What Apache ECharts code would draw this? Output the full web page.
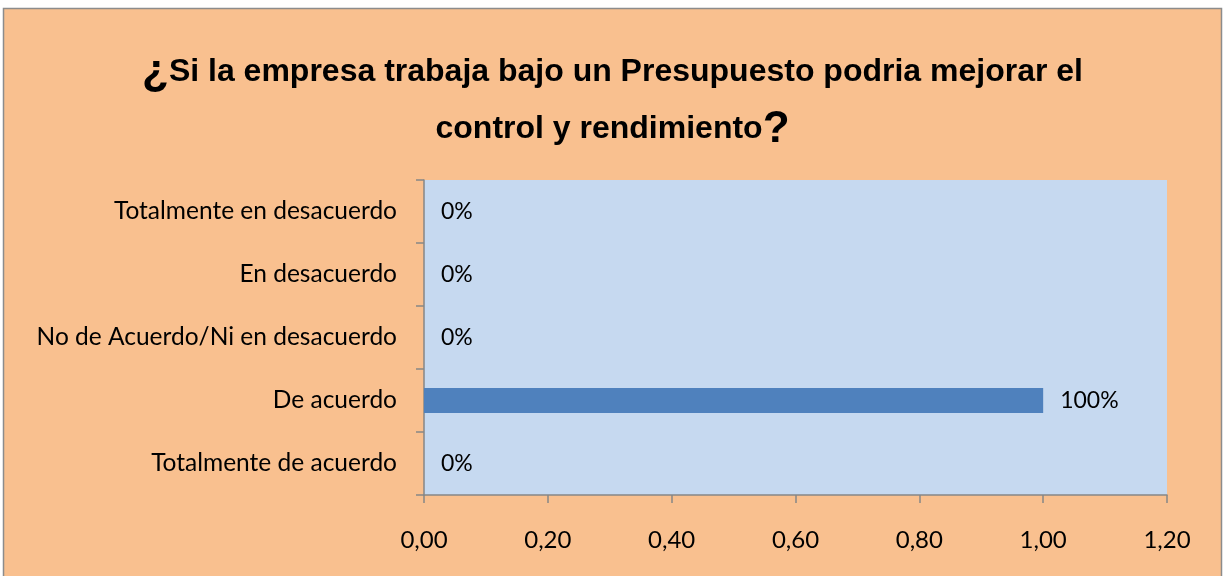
<!DOCTYPE html>
<html><head><meta charset="utf-8">
<script src="https://cdn.jsdelivr.net/npm/echarts@6/dist/echarts.min.js"></script>
<style>html,body{margin:0;padding:0;background:#fff}#c{width:1225px;height:576px}</style>
</head><body><div id="c"></div>
<script>
const categories = ["Totalmente de acuerdo", "De acuerdo", "No de Acuerdo/Ni en desacuerdo", "En desacuerdo", "Totalmente en desacuerdo"];
const values = [0, 1, 0, 0, 0];
const xTicks = [0, 0.2, 0.4, 0.6, 0.8, 1.0, 1.2];

const chart = echarts.init(document.getElementById('c'));
chart.setOption({
  backgroundColor: '#ffffff',
  animation: false,
  graphic: [{
    type: 'rect', shape: {x: 3.5, y: 8.5, width: 1218, height: 580},
    style: {fill: '#F9C08F', stroke: '#8C8C8C', lineWidth: 1.5}, z: -10
  }],
  title: {
    text: '{q|¿}Si la empresa trabaja bajo un Presupuesto podria mejorar el\ncontrol y rendimiento{q|?}',
    left: 'center', top: 39,
    textStyle: {
      fontFamily: 'Liberation Sans', fontWeight: 'bold', fontSize: 32, color: '#000',
      lineHeight: 57,
      rich: {q: {fontFamily: 'Liberation Sans', fontWeight: 'bold', fontSize: 44, lineHeight: 57, color: '#000'}}
    }
  },
  grid: {left: 424, right: 58, top: 180, bottom: 81, show: true, backgroundColor: '#C6D9F0', borderWidth: 0},
  xAxis: {
    type: 'value', min: xTicks[0], max: xTicks[xTicks.length - 1], interval: 0.2,
    splitLine: {show: false},
    axisLine: {show: true, lineStyle: {color: '#868686', width: 1.5}},
    axisTick: {show: true, length: 8, lineStyle: {color: '#868686', width: 1.5}},
    axisLabel: {
      margin: 33, color: '#000', fontFamily: 'Lato', fontSize: 24,
      formatter: v => v.toFixed(2).replace('.', ',')
    }
  },
  yAxis: {
    type: 'category', data: categories,
    axisLine: {show: true, lineStyle: {color: '#868686', width: 1.5}},
    axisTick: {show: true, length: 8, lineStyle: {color: '#868686', width: 1.5}},
    axisLabel: {margin: 27, color: '#000', fontFamily: 'Lato', fontSize: 24.5}
  },
  series: [{
    type: 'bar', data: values, barWidth: 25,
    itemStyle: {color: '#4F81BD'},
    label: {
      show: true, position: 'right', distance: 17, color: '#000',
      fontFamily: 'Lato', fontSize: 23,
      formatter: p => Math.round(p.value * 100) + '%'
    }
  }]
});
</script></body></html>
